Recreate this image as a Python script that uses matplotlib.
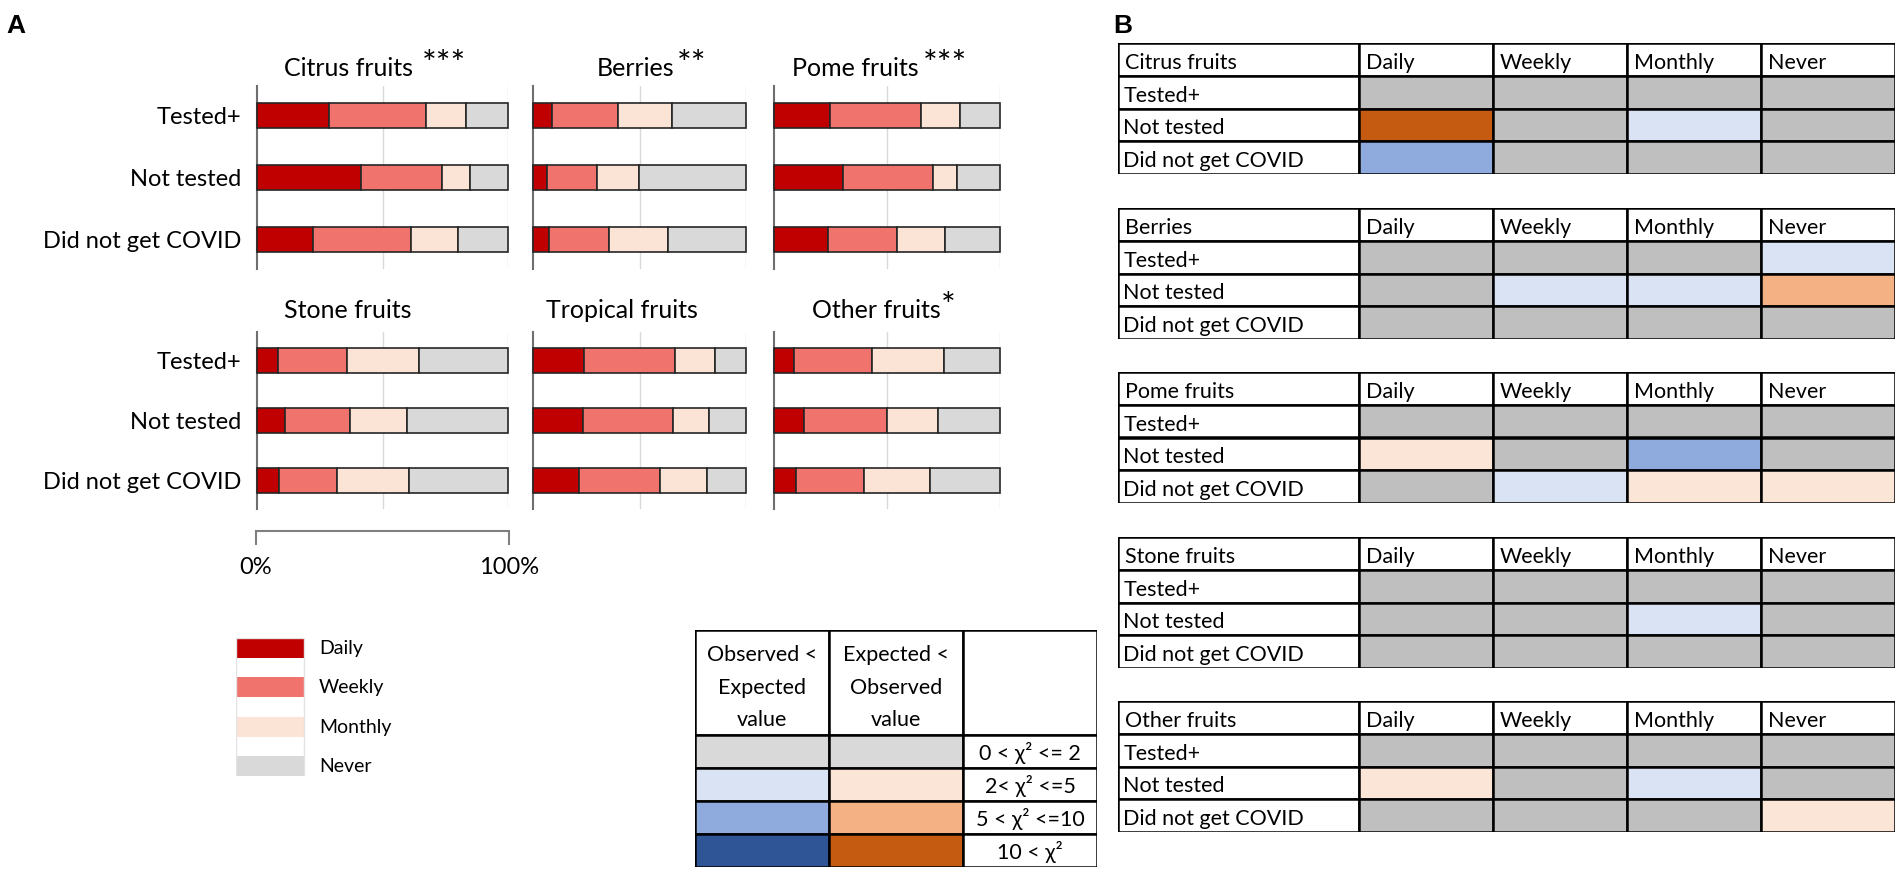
import matplotlib
matplotlib.use("Agg")
import matplotlib.pyplot as plt
from matplotlib.patches import Rectangle

plt.rcParams['font.family'] = ['Lato', 'DejaVu Sans']

W, H = 1902, 874

GROUPS = ["Tested+", "Not tested", "Did not get COVID"]
FREQS = ["Daily", "Weekly", "Monthly", "Never"]
FREQ_COLORS = ["#C00000", "#F1736E", "#FBE3D6", "#D9D9D9"]

FRUITS = ["Citrus fruits", "Berries", "Pome fruits",
          "Stone fruits", "Tropical fruits", "Other fruits"]
STARS = ["***", "**", "***", "", "", "*"]

# percent of each group eating the fruit Daily / Weekly / Monthly / Never
citrus = [[28.6, 38.6, 16.0, 16.8], [41.3, 32.6, 11.1, 15.0], [22.2, 39.1, 18.6, 20.1]]
berries = [[8.7, 31.0, 25.7, 34.6], [6.6, 23.3, 20.0, 50.1], [7.4, 28.5, 27.4, 36.7]]
pome = [[24.7, 40.2, 17.5, 17.6], [30.5, 39.8, 10.6, 19.1], [23.8, 30.8, 21.1, 24.3]]
stone = [[8.2, 27.8, 28.6, 35.4], [11.3, 25.8, 22.8, 40.1], [8.7, 23.3, 28.7, 39.3]]
tropical = [[23.8, 43.1, 18.5, 14.6], [23.4, 42.2, 17.1, 17.3], [21.8, 37.6, 22.5, 18.1]]
other = [[8.9, 34.5, 31.9, 24.7], [13.3, 36.8, 22.5, 27.4], [9.6, 30.1, 29.2, 31.1]]
PCTS = [citrus, berries, pome, stone, tropical, other]

# chi-square cell levels: 0 = n.s., -k = observed < expected, +k = expected < observed
CHI_FRUITS = ["Citrus fruits", "Berries", "Pome fruits", "Stone fruits", "Other fruits"]
chi_citrus = [[0, 0, 0, 0], [3, 0, -1, 0], [-2, 0, 0, 0]]
chi_berries = [[0, 0, 0, -1], [0, -1, -1, 2], [0, 0, 0, 0]]
chi_pome = [[0, 0, 0, 0], [1, 0, -2, 0], [0, -1, 1, 1]]
chi_stone = [[0, 0, 0, 0], [0, 0, -1, 0], [0, 0, 0, 0]]
chi_other = [[0, 0, 0, 0], [1, 0, -1, 0], [0, 0, 0, 1]]
CHI = [chi_citrus, chi_berries, chi_pome, chi_stone, chi_other]

LEVEL_COLORS = {0: "#BFBFBF", -1: "#DAE3F3", -2: "#8FAADC", -3: "#2F5597",
                1: "#FBE5D6", 2: "#F4B183", 3: "#C55A11"}
KEY_ROWS = [(0, 0), (-1, 1), (-2, 2), (-3, 3)]
KEY_TEXT = ["0 < \u03c7\u00b2 <= 2", "2< \u03c7\u00b2 <=5",
            "5 < \u03c7\u00b2 <=10", "10 < \u03c7\u00b2"]
KEY_HEAD = [["Observed <", "Expected", "value"], ["Expected <", "Observed", "value"]]


def box(x0, y0, x1, y1):
    # pixel box -> figure fraction rect
    return [x0 / W, 1 - y1 / H, (x1 - x0) / W, (y1 - y0) / H]


def fx(x, y):
    return x / W, 1 - y / H


fig = plt.figure(figsize=(W / 100, H / 100), dpi=100)

# ---------------- panel A: stacked bars ----------------
cols = [(257, 508), (533, 746), (774, 1000)]
rows = [(86, 269), (332, 509)]
title_pos = [(348, 76, 422, 75), (636, 76, 677, 75), (855, 76, 923, 75),
             (348, 318, None, None), (622, 318, None, None), (876, 318, 941, 317)]

for k, fruit in enumerate(FRUITS):
    r, c = divmod(k, 3)
    ax = fig.add_axes(box(cols[c][0], rows[r][0], cols[c][1], rows[r][1]))
    data = PCTS[k]
    for i in range(len(GROUPS)):
        left = 0
        for j in range(len(FREQS)):
            v = data[i][j] / 100
            ax.barh(i, v, left=left, height=0.41, color=FREQ_COLORS[j],
                    edgecolor="#262626", linewidth=1.2, zorder=3, clip_on=False)
            left += v
    for g in (0.5, 1.0):
        ax.axvline(g, color="#D9D9D9", lw=1, zorder=1)
    ax.set_xlim(0, 1)
    ax.set_ylim(2.48, -0.48)
    for s in ("top", "right", "bottom"):
        ax.spines[s].set_visible(False)
    ax.spines["left"].set_color("#6F6F6F")
    ax.spines["left"].set_linewidth(1.5)
    ax.set_xticks([])
    if c == 0:
        ax.set_yticks(range(len(GROUPS)))
        ax.set_yticklabels(GROUPS, fontsize=17)
        ax.tick_params(axis="y", length=0, pad=11)
    else:
        ax.set_yticks([])
    tx, ty, sx, sy = title_pos[k]
    fig.text(*fx(tx, ty), fruit, fontsize=18, ha="center", va="baseline")
    if STARS[k]:
        fig.text(*fx(sx, sy), STARS[k], fontsize=25, ha="left", va="baseline")

# 0% - 100% scale bar
sax = fig.add_axes(box(256, 530, 509, 531))
sax.set_xlim(0, 1)
sax.set_yticks([])
for s in ("top", "right", "left"):
    sax.spines[s].set_visible(False)
sax.spines["bottom"].set_color("#7F7F7F")
sax.spines["bottom"].set_linewidth(1.5)
sax.set_xticks([0, 1])
sax.set_xticklabels(["0%", "100%"], fontsize=17)
sax.tick_params(axis="x", direction="out", length=10, width=1.5,
                color="#7F7F7F", pad=9)
sax.patch.set_visible(False)

# frequency legend
lax = fig.add_axes(box(236, 638, 430, 776))
lax.set_xlim(0, 194)
lax.set_ylim(3.51, 0)
lax.axis("off")
for j, name in enumerate(FREQS):
    lax.add_patch(Rectangle((0, j), 68, 0.51, color=FREQ_COLORS[j], lw=0))
    lax.text(83, j + 0.27, name, fontsize=14, va="center", ha="left")
lax.add_patch(Rectangle((0, 0), 68, 3.51, fill=False, ec="#E3E3E3", lw=1))

# chi-square colour key
kax = fig.add_axes(box(695, 630, 1097, 867))
head_h = 105 / 33
kax.set_xlim(0, 3)
kax.set_ylim(head_h + 4, 0)
kax.axis("off")
for c in range(3):
    kax.add_patch(Rectangle((c, 0), 1, head_h, fc="white", ec="black", lw=1.8))
for c in range(2):
    for li, line in enumerate(KEY_HEAD[c]):
        kax.text(c + 0.5, (25 + 32.5 * li) / 33, line, fontsize=15.5,
                 ha="center", va="center")
for i, (lo, hi) in enumerate(KEY_ROWS):
    y = head_h + i
    kax.add_patch(Rectangle((0, y), 1, 1, fc=LEVEL_COLORS[lo] if lo else "#D9D9D9",
                            ec="black", lw=1.8))
    kax.add_patch(Rectangle((1, y), 1, 1, fc=LEVEL_COLORS[hi] if hi else "#D9D9D9",
                            ec="black", lw=1.8))
    kax.add_patch(Rectangle((2, y), 1, 1, fc="white", ec="black", lw=1.8))
    kax.text(2.5, y + 0.55, KEY_TEXT[i], fontsize=15.5, ha="center", va="center")

# ---------------- panel B: chi-square tables ----------------
tops = [43, 208, 372, 537, 701]
w0 = 241 / 134
for t, fruit in enumerate(CHI_FRUITS):
    tax = fig.add_axes(box(1118, tops[t], 1895, tops[t] + 131))
    tax.set_xlim(0, w0 + 4)
    tax.set_ylim(4, 0)
    tax.axis("off")
    edges = [0, w0, w0 + 1, w0 + 2, w0 + 3]
    widths = [w0, 1, 1, 1, 1]
    header = [fruit] + FREQS
    for c in range(5):
        tax.add_patch(Rectangle((edges[c], 0), widths[c], 1, fc="white",
                                ec="black", lw=1.8))
        tax.text(edges[c] + 0.05, 0.79, header[c], fontsize=15.5, va="baseline")
    for i, grp in enumerate(GROUPS):
        tax.add_patch(Rectangle((0, i + 1), w0, 1, fc="white", ec="black", lw=1.8))
        tax.text(0.04, i + 1.79, grp, fontsize=15.5, va="baseline")
        for j in range(4):
            tax.add_patch(Rectangle((w0 + j, i + 1), 1, 1,
                                    fc=LEVEL_COLORS[CHI[t][i][j]], ec="black", lw=1.8))

fig.text(*fx(6, 33), "A", fontsize=19, fontweight="bold",
         family="Liberation Sans", va="baseline")
fig.text(*fx(1113, 33), "B", fontsize=19, fontweight="bold",
         family="Liberation Sans", va="baseline")

fig.savefig("out.png", dpi=100)
